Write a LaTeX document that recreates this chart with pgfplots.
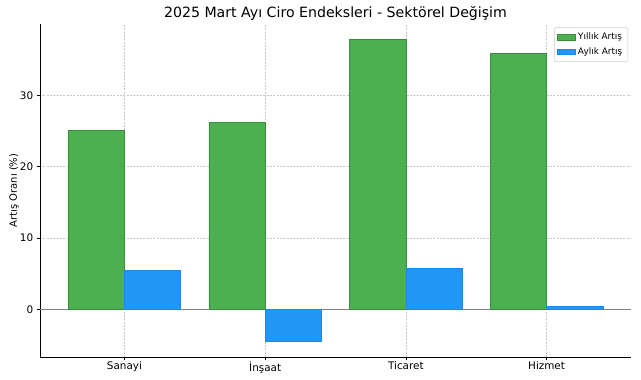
\documentclass[border=0pt]{standalone}
\usepackage{pgfplots}
\pgfplotsset{compat=1.18}
\usepackage{fontspec}
\setmainfont{DejaVu Sans}
\definecolor{cgreen}{HTML}{4CAF50}
\definecolor{cgreenedge}{HTML}{388E3C}
\definecolor{cblue}{HTML}{2196F3}
\definecolor{cblueedge}{HTML}{1E88E5}
\begin{document}
\begin{tikzpicture}[x=1pt,y=1pt]
\begin{axis}[
  scale only axis,
  width=443.25pt, height=249.75pt,
  xmin=-0.6, xmax=3.6,
  ymin=-6.7, ymax=40.0,
  xtick={0,1,2,3},
  xticklabels={Sanayi,İnşaat,Ticaret,Hizmet},
  ytick={0,10,20,30},
  axis x line*=bottom,
  axis y line*=left,
  axis line style={black, line width=0.6pt, -},
  tick align=outside,
  major tick length=2.6pt,
  tick style={black, line width=0.5pt},
  grid=major,
  major grid style={dash pattern=on 1.5pt off 1pt, black!22, line width=0.4pt},
  tick label style={font=\fontsize{7.8}{9}\selectfont},
  xticklabel style={yshift=2.5pt},
  yticklabel style={xshift=1pt},
  /pgf/number format/assume math mode=true,
  ylabel={Artış Oranı (\%)},
  ylabel style={font=\fontsize{7.5}{9}\selectfont, yshift=-6pt},
  title={2025 Mart Ayı Ciro Endeksleri - Sektörel Değişim},
  title style={font=\fontsize{10.6}{12}\selectfont, yshift=-7pt},
  legend style={at={(0.995,0.99)}, anchor=north east, font=\fontsize{6.7}{8}\selectfont,
    draw=black!20, rounded corners=1pt, inner sep=2.2pt},
  legend image code/.code={\draw[#1, sharp corners] (0pt,-2.2pt) rectangle (13pt,2.2pt);},
  clip=false,
]
\addplot[draw=gray, line width=0.6pt, forget plot] coordinates {(-0.6,0) (3.6,0)};
\addplot[ybar, bar width=0.4, bar shift=-0.2, fill=cgreen, draw=cgreenedge, line width=0.4pt]
  coordinates {(0,25.05) (1,26.2) (2,37.85) (3,35.9)};
\addplot[ybar, bar width=0.4, bar shift=0.2, fill=cblue, draw=cblueedge, line width=0.4pt]
  coordinates {(0,5.5) (1,-4.5) (2,5.75) (3,0.4)};
\legend{Yıllık Artış, Aylık Artış}
\end{axis}
\pgfresetboundingbox
\path (current axis.south west) ++(-30pt,-17.25pt) coordinate (bbsw);
\path (current axis.north east) ++(7.5pt,18pt) coordinate (bbne);
\useasboundingbox (bbsw) rectangle (bbne);
\end{tikzpicture}
\end{document}
